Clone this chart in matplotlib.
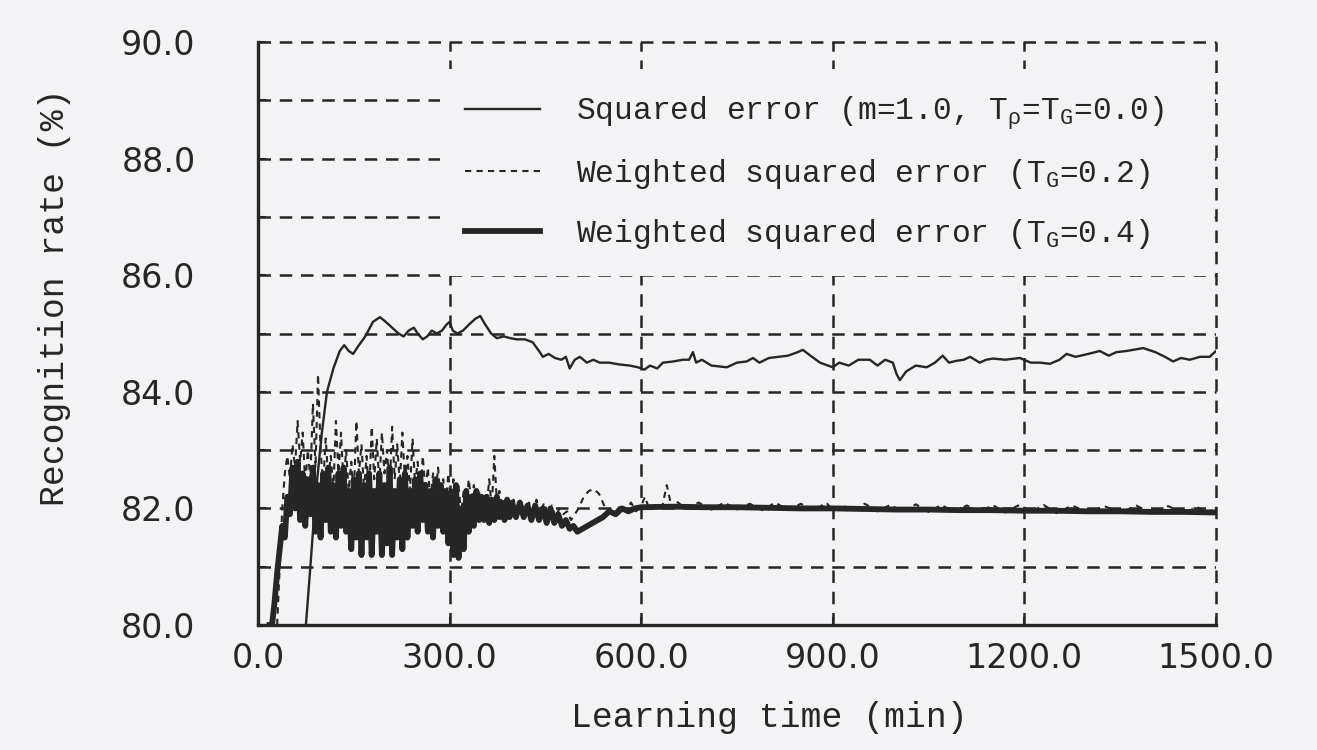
import matplotlib
matplotlib.use("Agg")
import matplotlib.pyplot as plt

# ---------------- data ----------------
x_ticks = [0, 300, 600, 900, 1200, 1500]
x_tick_labels = ["0.0", "300.0", "600.0", "900.0", "1200.0", "1500.0"]
y_ticks = [80, 82, 84, 86, 88, 90]
y_tick_labels = ["80.0", "82.0", "84.0", "86.0", "88.0", "90.0"]
y_minor_ticks = [81, 83, 85, 87, 89]

labels = [
    r"Squared error (m=1.0, T$_\rho$=T$_\mathrm{G}$=0.0)",
    r"Weighted squared error (T$_\mathrm{G}$=0.2)",
    r"Weighted squared error (T$_\mathrm{G}$=0.4)",
]

# Squared error (thin solid)
sq_x = [75, 82, 90, 100, 108, 118, 128, 135, 142, 149,
        158, 168, 180, 191, 200, 210, 220, 228, 236, 244,
        250, 258, 265, 272, 280, 288, 295, 300, 305, 312,
        321, 330, 340, 348, 356, 365, 374, 385, 395, 405,
        418, 430, 440, 446, 455, 465, 475, 482, 488, 496,
        504, 515, 525, 535, 550, 565, 582, 595, 605, 614,
        625, 634, 650, 665, 675, 681, 686, 695, 710, 734,
        750, 765, 775, 785, 800, 815, 830, 845, 853, 865,
        880, 900, 910, 925, 940, 958, 970, 982, 994, 1000,
        1005, 1015, 1030, 1047, 1060, 1072, 1082, 1093, 1105, 1115,
        1130, 1140, 1151, 1170, 1193, 1210, 1225, 1240, 1255, 1266,
        1280, 1300, 1318, 1332, 1344, 1360, 1386, 1405, 1420, 1433,
        1445, 1459, 1475, 1490, 1500]
sq_y = [80.0, 81.0, 82.2, 83.3, 84.0, 84.4, 84.7, 84.8, 84.7, 84.65,
        84.8, 84.95, 85.2, 85.28, 85.2, 85.1, 85.0, 84.95, 85.05, 85.1,
        85.0, 84.9, 84.95, 85.05, 85.0, 85.05, 85.15, 85.2, 85.05, 85.0,
        85.05, 85.15, 85.25, 85.3, 85.15, 85.0, 84.92, 84.95, 84.92, 84.9,
        84.9, 84.85, 84.7, 84.6, 84.65, 84.58, 84.55, 84.6, 84.4, 84.55,
        84.6, 84.5, 84.55, 84.5, 84.5, 84.47, 84.45, 84.42, 84.38, 84.45,
        84.4, 84.5, 84.52, 84.55, 84.55, 84.68, 84.5, 84.55, 84.45, 84.42,
        84.5, 84.52, 84.58, 84.5, 84.58, 84.6, 84.62, 84.68, 84.72, 84.62,
        84.5, 84.42, 84.5, 84.45, 84.55, 84.55, 84.45, 84.55, 84.5, 84.3,
        84.2, 84.35, 84.45, 84.42, 84.5, 84.62, 84.5, 84.53, 84.55, 84.6,
        84.5, 84.55, 84.57, 84.55, 84.58, 84.5, 84.5, 84.48, 84.55, 84.65,
        84.6, 84.65, 84.7, 84.62, 84.68, 84.7, 84.75, 84.68, 84.6, 84.52,
        84.58, 84.55, 84.6, 84.6, 84.7]

# Weighted squared error T_G=0.2 (thin dashed)
tg2_x = [30, 34, 38, 42, 46, 50, 54, 58, 62, 66,
         70, 74, 78, 82, 86, 90, 94, 98, 102, 106,
         110, 114, 118, 122, 126, 130, 134, 138, 142, 146,
         150, 154, 158, 162, 166, 170, 174, 178, 182, 186,
         190, 194, 198, 202, 206, 210, 214, 218, 222, 226,
         230, 234, 238, 242, 246, 250, 254, 258, 262, 266,
         270, 274, 278, 282, 286, 290, 294, 298, 302, 306,
         310, 314, 318, 322, 326, 330, 334, 338, 342, 346,
         350, 354, 358, 362, 366, 370, 374, 378, 382, 388,
         394, 400, 406, 412, 418, 424, 430, 436, 442, 448,
         454, 460, 466, 472, 478, 484, 490, 496, 502, 510,
         518, 526, 534, 540, 546, 552, 560, 568, 576, 584,
         592, 600, 606, 612, 620, 632, 640, 648, 655, 670,
         690, 710, 730, 750, 770, 790, 810, 830, 850, 870,
         890, 900, 915, 930, 950, 970, 990, 1010, 1030, 1050,
         1070, 1090, 1110, 1130, 1150, 1170, 1190, 1210, 1230, 1250,
         1275, 1300, 1325, 1350, 1375, 1400, 1425, 1450, 1470, 1485,
         1500]
tg2_y = [80.0, 81.0, 82.0, 82.6, 82.9, 82.5, 83.1, 82.7, 83.5, 82.8,
         83.3, 82.4, 83.0, 82.5, 83.8, 82.7, 84.3, 83.0, 82.4, 83.2,
         82.5, 82.9, 82.3, 83.5, 82.6, 83.3, 82.4, 83.0, 82.3, 82.8,
         82.2, 83.5, 82.6, 83.1, 82.3, 82.9, 82.2, 83.4, 82.5, 83.2,
         82.4, 83.3, 82.6, 83.0, 82.3, 83.4, 82.5, 83.1, 82.4, 83.3,
         82.5, 82.9, 82.3, 83.2, 82.4, 82.8, 82.2, 82.9, 82.3, 82.7,
         82.1, 82.6, 82.2, 82.7, 82.1, 82.5, 82.0, 82.6, 82.1, 82.5,
         82.0, 82.4, 81.9, 82.3, 82.0, 82.5, 82.1, 82.4, 82.0, 82.3,
         81.9, 82.2, 82.0, 82.5, 82.0, 82.9, 82.1, 82.3, 82.0, 82.2,
         81.95, 82.15, 81.95, 82.1, 81.9, 82.1, 81.95, 82.15, 81.9, 82.1,
         81.9, 82.05, 81.85, 82.0, 81.9, 81.95, 81.8, 81.9, 82.0, 82.2,
         82.3, 82.33, 82.25, 82.1, 81.95, 82.0, 81.95, 82.05, 81.95, 82.1,
         81.95, 82.05, 82.2, 82.0, 82.05, 81.98, 82.4, 82.0, 82.12, 82.0,
         82.1, 81.98, 82.1, 81.98, 82.08, 81.97, 82.1, 81.97, 82.08, 81.96,
         82.1, 81.96, 82.06, 81.95, 82.08, 81.95, 82.06, 81.94, 82.07, 81.94,
         82.06, 81.94, 82.05, 81.93, 82.06, 81.93, 82.05, 81.93, 82.06, 81.92,
         82.05, 81.92, 82.04, 81.92, 82.05, 81.91, 82.04, 81.91, 82.03, 81.91,
         82.02]

# Weighted squared error T_G=0.4 (thick solid)
tg4_x = [18, 22, 26, 30, 34, 38, 42, 46, 50, 54,
         58, 62, 66, 70, 74, 78, 82, 86, 90, 94,
         98, 102, 106, 110, 114, 118, 122, 126, 130, 134,
         138, 142, 146, 150, 154, 158, 162, 166, 170, 174,
         178, 182, 186, 190, 194, 198, 202, 206, 210, 214,
         218, 222, 226, 230, 234, 238, 242, 246, 250, 254,
         258, 262, 266, 270, 274, 278, 282, 286, 290, 294,
         298, 302, 306, 310, 314, 318, 322, 326, 330, 334,
         338, 342, 346, 350, 354, 358, 362, 366, 370, 374,
         378, 382, 386, 390, 394, 398, 404, 410, 416, 422,
         428, 434, 440, 446, 452, 458, 464, 470, 476, 482,
         488, 494, 500, 508, 516, 524, 532, 540, 550, 560,
         570, 580, 590, 600, 650, 700, 750, 800, 850, 900,
         950, 1000, 1050, 1100, 1150, 1200, 1250, 1300, 1350, 1400,
         1450, 1500]
tg4_y = [80.0, 80.0, 80.4, 80.9, 81.3, 81.7, 81.5, 82.2, 81.9, 82.7,
         82.0, 82.8, 81.8, 82.6, 81.7, 82.5, 81.9, 82.7, 81.6, 82.4,
         81.5, 82.6, 81.8, 82.7, 81.6, 82.4, 81.5, 82.6, 81.7, 82.7,
         81.6, 82.3, 81.3, 82.5, 81.5, 82.6, 81.2, 82.4, 81.5, 82.6,
         81.2, 82.3, 81.6, 82.6, 81.2, 82.4, 81.4, 82.7, 81.2, 82.3,
         81.5, 82.5, 81.3, 82.6, 81.5, 82.3, 81.7, 82.5, 81.6, 82.6,
         81.8, 82.4, 81.6, 82.3, 81.5, 82.5, 81.7, 82.4, 81.6, 82.3,
         81.4, 82.2, 81.2, 82.4, 81.15, 82.0, 81.3, 82.3, 81.6, 82.2,
         81.7, 82.3, 81.8, 82.2, 81.8, 82.2, 81.75, 82.15, 81.8, 82.2,
         81.85, 82.1, 81.8, 82.15, 81.85, 82.1, 81.85, 82.1, 81.85, 82.05,
         81.8, 82.05, 81.8, 82.0, 81.75, 82.0, 81.75, 81.9, 81.7, 81.8,
         81.65, 81.7, 81.6, 81.65, 81.7, 81.75, 81.8, 81.85, 81.95, 81.9,
         82.0, 81.95, 82.0, 82.02, 82.03, 82.02, 82.02, 82.01, 82.0, 82.0,
         81.99, 81.98, 81.98, 81.97, 81.97, 81.96, 81.96, 81.95, 81.95, 81.94,
         81.94, 81.93]

# ---------------- style ----------------
BG = "#f3f2f4"
INK = "#262626"
MONO = "Liberation Mono"
plt.rcParams["mathtext.fontset"] = "custom"
plt.rcParams["mathtext.rm"] = MONO
plt.rcParams["mathtext.it"] = MONO

fig = plt.figure(figsize=(13.17, 7.5), dpi=100, facecolor=BG)
ax = fig.add_axes([258 / 1317, 1 - 625 / 750, (1216 - 258) / 1317, (625 - 42) / 750])
ax.set_facecolor(BG)

dash_grid = (0, (5, 3.5))
l1, = ax.plot(sq_x, sq_y, color=INK, lw=1.7, zorder=3)
l2, = ax.plot(tg2_x, tg2_y, color=INK, lw=1.5, ls=(0, (3, 2.5)), zorder=3)
l3, = ax.plot(tg4_x, tg4_y, color=INK, lw=4.2, zorder=4)

ax.set_xlim(0, 1500)
ax.set_ylim(80, 90)
ax.set_xticks(x_ticks)
ax.set_xticklabels(x_tick_labels)
ax.set_yticks(y_ticks)
ax.set_yticklabels(y_tick_labels)
ax.set_yticks(y_minor_ticks, minor=True)

ax.grid(True, which="both", axis="y", ls=dash_grid, lw=1.8, color=INK, zorder=1)
ax.grid(True, which="major", axis="x", ls=dash_grid, lw=1.8, color=INK, zorder=1)
for gl in ax.get_xgridlines() + ax.get_ygridlines():
    gl.set_clip_on(False)
# right border (x = 1500) stays visible over the legend box
ax.get_xgridlines()[-1].set_zorder(6)

for s in ["top", "right"]:
    ax.spines[s].set_visible(False)
for s in ["left", "bottom"]:
    ax.spines[s].set_linewidth(2.4)
    ax.spines[s].set_color(INK)
    ax.spines[s].set_zorder(6)

ax.tick_params(axis="both", which="both", direction="in", length=6, width=1.5, color=INK)
ax.tick_params(axis="y", which="major", pad=45, labelsize=24, labelcolor=INK)
ax.tick_params(axis="x", which="major", pad=12, labelsize=24, labelcolor=INK)
for t in ax.get_xticklabels() + ax.get_yticklabels():
    t.set_family("DejaVu Sans")

fig.text(55 / 1317, 1 - 297 / 750, "Recognition rate (%)", rotation=90,
         ha="center", va="center", family=MONO, fontsize=25, color=INK)
fig.text(769 / 1317, 1 - 718 / 750, "Learning time (min)",
         ha="center", va="center", family=MONO, fontsize=25, color=INK)

leg = ax.legend([l1, l2, l3], labels, loc="upper left",
                bbox_to_anchor=(0.19, 0.62, 0.806, 0.333), mode="expand",
                frameon=True, facecolor=BG, edgecolor="none", framealpha=1,
                prop={"family": MONO, "size": 22.5}, handlelength=2.4,
                handletextpad=1.15, labelspacing=0.82, borderpad=0.8,
                borderaxespad=0, fancybox=False)
for t in leg.get_texts():
    t.set_color(INK)
leg.set_zorder(5)

fig.savefig("out.png", dpi=100, facecolor=BG)
